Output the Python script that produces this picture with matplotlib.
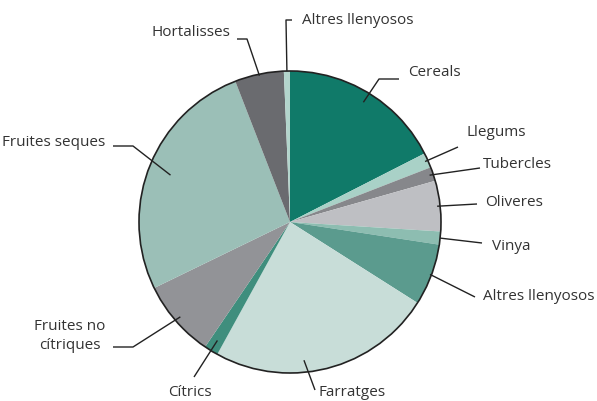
import numpy as np
import matplotlib.pyplot as plt
from matplotlib.patches import Circle

plt.rcParams['font.family'] = ['Open Sans', 'DejaVu Sans']

# share of area (%), clockwise from the top
labels = ["Cereals", "Llegums", "Tubercles", "Oliveres", "Vinya", "Altres llenyosos",
          "Farratges", "Cítrics", "Fruites no\ncítriques", "Fruites seques",
          "Hortalisses", "Altres llenyosos"]
values = [17.5, 1.6, 1.5, 5.4, 1.4, 6.6, 24.0, 1.5, 8.3, 26.3, 5.25, 0.65]
colors = ["#107a69", "#a9d1c7", "#86878b", "#bebfc3", "#8dbdb1", "#5b9b8e",
          "#c8ddd8", "#3f8e7d", "#929397", "#9bbfb7", "#6a6b6f", "#b3d5cc"]

# label layout (pixels): text pos, alignment, leader end points, anchor radius, anchor position in wedge
text_pos = [(408, 72), (467, 133), (483, 164), (485, 202), (492, 246), (483, 297),
            (318, 392), (190, 393), (70, 336), (105, 143), (230, 32), (302, 20)]
text_ha = ["left", "left", "left", "left", "left", "left",
           "left", "center", "center", "right", "right", "left"]
leader = [[(379, 79), (399, 79)], [(458, 147)], [(480, 168)], [(477, 204)], [(482, 243)],
          [(475, 297)], [(315, 390)], [(194, 377)], [(133, 347), (113, 347)],
          [(133, 146), (113, 146)], [(247, 39), (237, 39)], [(286, 20), (292, 20)]]
anchor_r = [0.93, 0.98, 0.975, 0.98, 1.0, 0.99, 0.92, 0.92, 0.96, 0.85, 0.99, 1.0]
anchor_frac = [0.5] * 12
anchor_frac[6] = 0.6

cx, cy, R = 290, 222, 151

fig = plt.figure(figsize=(5.97, 4.01), dpi=100)
ax = fig.add_axes([0, 0, 1, 1])
wedges, _ = ax.pie(values, colors=colors, startangle=-90, counterclock=True,
                   center=(cx, cy), radius=R, frame=True,
                   wedgeprops=dict(linewidth=0))
ax.add_patch(Circle((cx, cy), R, fill=False, edgecolor="#222222", linewidth=1.2))
ax.set_xlim(0, 597)
ax.set_ylim(401, 0)
ax.axis('off')

for i, w in enumerate(wedges):
    ang = np.deg2rad(w.theta1 + (w.theta2 - w.theta1) * anchor_frac[i])
    ax_ = cx + R * anchor_r[i] * np.cos(ang)
    ay_ = cy + R * anchor_r[i] * np.sin(ang)
    pts = [(ax_, ay_)] + leader[i]
    xs, ys = zip(*pts)
    ax.plot(xs, ys, color="#222222", lw=1.0, solid_capstyle='butt')
    ax.text(text_pos[i][0], text_pos[i][1], labels[i], ha=text_ha[i], va="center",
            fontsize=11, color="#333333", linespacing=1.3)

fig.savefig("out.png", dpi=100)
